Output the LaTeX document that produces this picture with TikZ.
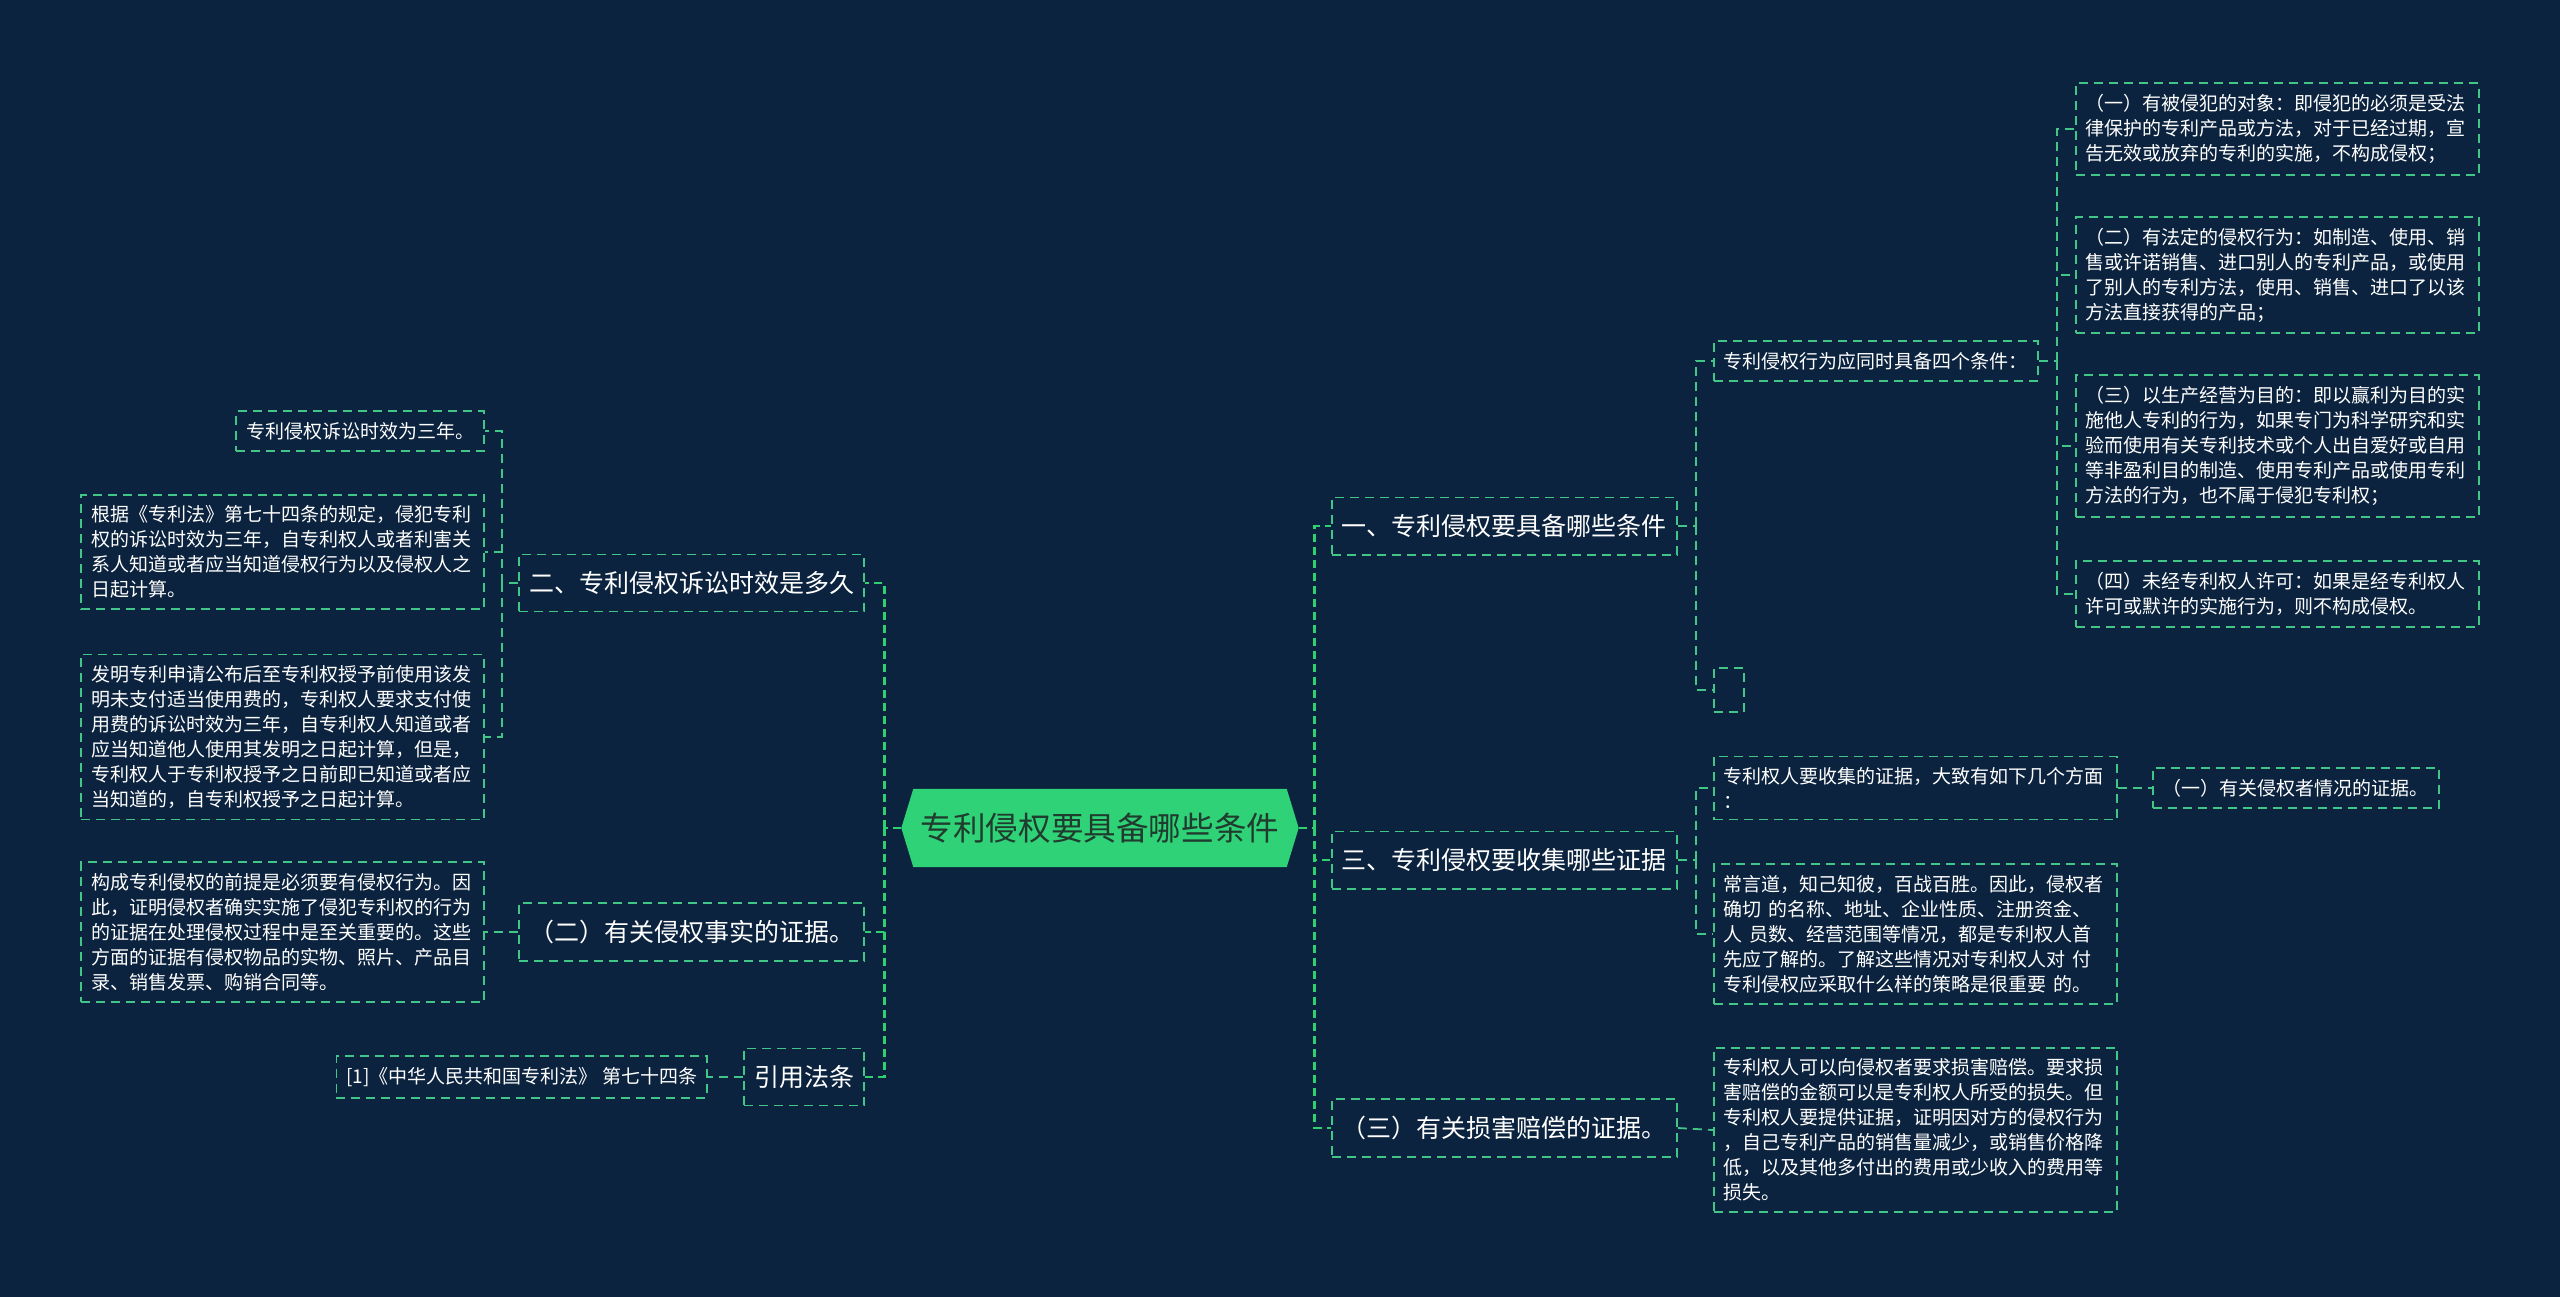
\documentclass[tikz,border=0pt]{standalone}
\usepackage{fontspec}
\setmainfont{Noto Sans CJK SC}
\definecolor{bgc}{RGB}{11,35,62}
\definecolor{boxgreen}{RGB}{66,198,136}
\definecolor{spinegreen}{RGB}{46,208,112}
\definecolor{hexc}{RGB}{48,210,120}
\definecolor{ctext}{RGB}{32,60,46}
\pgfdeclarelayer{background}
\pgfsetlayers{background,main}
\tikzset{
  tbox/.style={draw=boxgreen, dash pattern=on 9pt off 6pt, line width=1.8pt, text=white,
    font=\fontsize{19}{25}\selectfont, inner xsep=10pt, inner ysep=11pt, align=left},
  pbox/.style={tbox, text width=383pt},
  lbox/.style={tbox, font=\fontsize{25}{30}\selectfont, inner ysep=17pt},
  link/.style={draw=boxgreen, dash pattern=on 9pt off 6pt, line width=1.8pt},
  spine/.style={draw=spinegreen, dash pattern=on 8pt off 5pt, line width=2.8pt},
}
\begin{document}
\begin{tikzpicture}[x=1pt,y=-1pt]
\useasboundingbox (0,0) rectangle (2560,1297);

% central node
\node[minimum width=397pt, minimum height=78pt, inner sep=0pt,
      font=\fontsize{32.6}{38}\selectfont, text=ctext] (c) at (1100,828) {专利侵权要具备哪些条件};

% right level 1
\node[lbox, anchor=west] (r1) at (1331,526) {一、专利侵权要具备哪些条件};
\node[lbox, anchor=west] (r2) at (1331,860) {三、专利侵权要收集哪些证据};
\node[lbox, anchor=west] (r3) at (1331,1128) {（三）有关损害赔偿的证据。};

% right level 2
\node[tbox, anchor=west] (a1) at (1713,361) {专利侵权行为应同时具备四个条件：};
\node[tbox, anchor=west, minimum width=30pt, minimum height=44pt, inner sep=0pt] (a2) at (1713,690) {};
\node[pbox, anchor=west] (b1) at (1713,788) {专利权人要收集的证据，大致有如下几个方面\\：};
\node[pbox, anchor=west] (b2) at (1713,934) {常言道，知己知彼，百战百胜。因此，侵权者\\确切 的名称、地址、企业性质、注册资金、\\人 员数、经营范围等情况，都是专利权人首\\先应了解的。了解这些情况对专利权人对 付\\专利侵权应采取什么样的策略是很重要 的。};
\node[pbox, anchor=west] (d1) at (1713,1130) {专利权人可以向侵权者要求损害赔偿。要求损\\害赔偿的金额可以是专利权人所受的损失。但\\专利权人要提供证据，证明因对方的侵权行为\\，自己专利产品的销售量减少，或销售价格降\\低，以及其他多付出的费用或少收入的费用等\\损失。};

% right level 3
\node[pbox, anchor=west] (a11) at (2075,129) {（一）有被侵犯的对象：即侵犯的必须是受法\\律保护的专利产品或方法，对于已经过期，宣\\告无效或放弃的专利的实施，不构成侵权；};
\node[pbox, anchor=west] (a12) at (2075,275) {（二）有法定的侵权行为：如制造、使用、销\\售或许诺销售、进口别人的专利产品，或使用\\了别人的专利方法，使用、销售、进口了以该\\方法直接获得的产品；};
\node[pbox, anchor=west] (a13) at (2075,446) {（三）以生产经营为目的：即以赢利为目的实\\施他人专利的行为，如果专门为科学研究和实\\验而使用有关专利技术或个人出自爱好或自用\\等非盈利目的制造、使用专利产品或使用专利\\方法的行为，也不属于侵犯专利权；};
\node[pbox, anchor=west] (a14) at (2075,594) {（四）未经专利权人许可：如果是经专利权人\\许可或默许的实施行为，则不构成侵权。};
\node[tbox, anchor=west] (b11) at (2152,788) {（一）有关侵权者情况的证据。};

% left level 1
\node[lbox, anchor=east] (l1) at (865,583) {二、专利侵权诉讼时效是多久};
\node[lbox, anchor=east] (l2) at (865,932) {（二）有关侵权事实的证据。};
\node[lbox, anchor=east] (l3) at (865,1077) {引用法条};

% left level 2
\node[tbox, anchor=east] (e1) at (485,431) {专利侵权诉讼时效为三年。};
\node[pbox, anchor=east] (e2) at (485,552) {根据《专利法》第七十四条的规定，侵犯专利\\权的诉讼时效为三年，自专利权人或者利害关\\系人知道或者应当知道侵权行为以及侵权人之\\日起计算。};
\node[pbox, anchor=east] (e3) at (485,737) {发明专利申请公布后至专利权授予前使用该发\\明未支付适当使用费的，专利权人要求支付使\\用费的诉讼时效为三年，自专利权人知道或者\\应当知道他人使用其发明之日起计算，但是，\\专利权人于专利权授予之日前即已知道或者应\\当知道的，自专利权授予之日起计算。};
\node[pbox, anchor=east] (f1) at (485,932) {构成专利侵权的前提是必须要有侵权行为。因\\此，证明侵权者确实实施了侵犯专利权的行为\\的证据在处理侵权过程中是至关重要的。这些\\方面的证据有侵权物品的实物、照片、产品目\\录、销售发票、购销合同等。};
\node[tbox, anchor=east] (g1) at (708,1077) {[1]《中华人民共和国专利法》 第七十四条};

% background and hexagon
\begin{pgfonlayer}{background}
\fill[bgc] (0,0) rectangle (2560,1297);
\fill[hexc] ([xshift=12pt]c.north west) -- ([xshift=-12pt]c.north east) -- (c.east)
  -- ([xshift=-12pt]c.south east) -- ([xshift=12pt]c.south west) -- (c.west) -- cycle;
\end{pgfonlayer}

% junction coordinates
\coordinate (cr) at ([xshift=16pt]c.east);
\coordinate (cl) at ([xshift=-17pt]c.west);
\coordinate (jr1) at ([xshift=18pt]r1.east);
\coordinate (jr2) at ([xshift=18pt]r2.east);
\coordinate (ja1) at ([xshift=18pt]a1.east);
\coordinate (jl1) at ([xshift=-16pt]l1.west);

% spine connectors
\draw[spine] (c.east) -- (cr);
\draw[spine] (cr) |- (r1.west);
\draw[spine] (cr) |- (r2.west);
\draw[spine] (cr) |- (r3.west);
\draw[spine] (c.west) -- (cl);
\draw[spine] (cl) |- (l1.east);
\draw[spine] (cl) |- (l2.east);
\draw[spine] (cl) |- (l3.east);

% second-level connectors
\draw[link] (r1.east) -- (jr1);
\draw[link] (jr1) |- (a1.west);
\draw[link] (jr1) |- (a2.west);
\draw[link] (a1.east) -- (ja1);
\draw[link] (ja1) |- (a11.west);
\draw[link] (ja1) |- (a12.west);
\draw[link] (ja1) |- (a13.west);
\draw[link] (ja1) |- (a14.west);
\draw[link] (r2.east) -- (jr2);
\draw[link] (jr2) |- (b1.west);
\draw[link] (jr2) |- (b2.west);
\draw[link] (b1.east) -- (b11.west);
\draw[link] (r3.east) -- (d1.west);
\draw[link] (l1.west) -- (jl1);
\draw[link] (jl1) |- (e1.east);
\draw[link] (jl1) |- (e2.east);
\draw[link] (jl1) |- (e3.east);
\draw[link] (l2.west) -- (f1.east);
\draw[link] (l3.west) -- (g1.east);
\end{tikzpicture}
\end{document}
